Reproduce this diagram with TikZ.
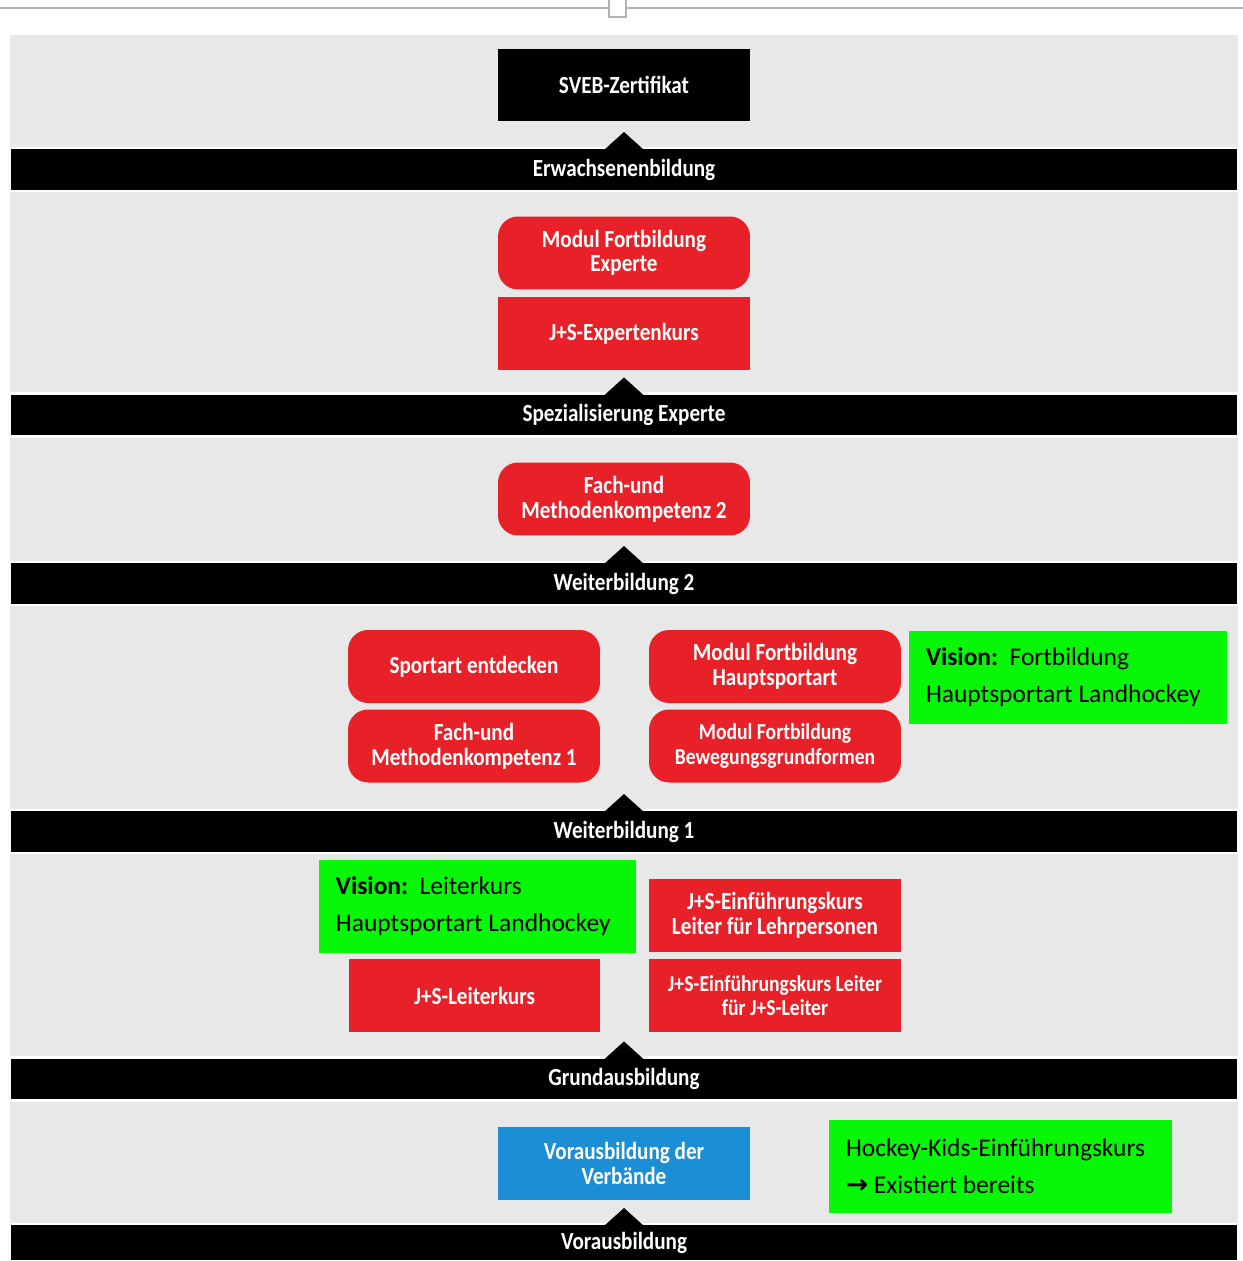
\documentclass[tikz,border=0pt]{standalone}
\usepackage{fontspec}
\usepackage{tikz}
\setmainfont{Carlito}
\newfontfamily\boxfont[FakeStretch=0.86]{Carlito}
\newfontfamily\arrowfont{DejaVu Sans}

\definecolor{panelgrey}{RGB}{232,232,232}
\definecolor{jsred}{RGB}{232,32,40}
\definecolor{jsblue}{RGB}{28,142,214}
\definecolor{visgreen}{RGB}{8,246,8}

\tikzset{
  stage/.style={fill=black, draw=white, line width=0.05cm, outer sep=0pt, inner sep=0pt,
    minimum width=24.56cm, minimum height=0.86cm, text=white,
    font=\boxfont\bfseries\fontsize{14}{14}\selectfont},
  box/.style={minimum width=5.04cm, minimum height=1.46cm, inner sep=0pt, outer sep=0pt,
    align=center, text=white, font=\boxfont\bfseries\fontsize{14}{14}\selectfont},
  darkbox/.style={box, fill=black},
  redbox/.style={box, fill=jsred},
  redround/.style={redbox, rounded corners=0.4cm},
  bluebox/.style={box, fill=jsblue},
  smalltext/.style={font=\boxfont\bfseries\fontsize{13}{14}\selectfont},
  vision/.style={fill=visgreen, anchor=north west, align=flush left, inner xsep=0.34cm, inner ysep=0pt,
    outer sep=0pt, minimum height=1.86cm, text=black, font=\fontsize{14.5}{21}\selectfont}
}

\begin{document}
\begin{tikzpicture}[x=0.02cm, y=-0.02cm]
        \useasboundingbox (0,0) rectangle (1243,1261);
        % window edge at the top
        \draw[gray!60, line width=0.04cm] (0,8) -- (1243,8);
        \filldraw[fill=white, draw=gray!60, line width=0.03cm] (609,0) -- (609,17) -- (626,17) -- (626,0);
        \fill[panelgrey] (10,35) rectangle (1238,1261);

        % stages
        \node[stage] at (624,169.5) (s1) {Erwachsenenbildung};
        \node[stage] at (624,415) (s2) {Spezialisierung Experte};
        \node[stage] at (624,583.5) (s3) {Weiterbildung 2};
        \node[stage] at (624,831.5) (s4) {Weiterbildung 1};
        \node[stage] at (624,1079) (s5) {Grundausbildung};
        \node[stage, minimum height=0.74cm] at (624,1242.5) (s6) {Vorausbildung};
        \foreach \s in {s1,s2,s3,s4,s5,s6}
            \fill[black] (\s.north) ++(-20,2) -- ++(20,-18) -- ++(20,18) -- cycle;

        % courses
        \node[darkbox] at (624,85) (sveb) {SVEB-Zertifikat};
        \node[redround] at (624,253) (modexp) {Modul Fortbildung\\Experte};
        \node[redbox] at (624,333.5) (expkurs) {J+S-Expertenkurs};
        \node[redround] at (624,499) (fmk2) {Fach-und\\Methodenkompetenz 2};
        \node[redround] at (474,666.5) (sport) {Sportart entdecken};
        \node[redround] at (775,666.5) (modhaupt) {Modul Fortbildung\\Hauptsportart};
        \node[redround] at (474,746) (fmk1) {Fach-und\\Methodenkompetenz 1};
        \node[redround, smalltext] at (775,746) (modbew) {Modul Fortbildung\\Bewegungsgrundformen};
        \node[redbox] at (775,915.5) (einlehr) {J+S-Einführungskurs\\Leiter für Lehrpersonen};
        \node[redbox] at (474.5,995.5) (leiter) {J+S-Leiterkurs};
        \node[redbox, smalltext] at (775,995.5) (einleiter) {J+S-Einführungskurs Leiter\\für J+S-Leiter};
        \node[bluebox] at (624,1163.5) (vorverb) {Vorausbildung der\\Verbände};

        % notes
        \node[vision, minimum width=6.36cm, text width=5.68cm] at (909,631) (visfort)
            {\textbf{Vision:}\ \ Fortbildung\\Hauptsportart Landhockey};
        \node[vision, minimum width=6.34cm, text width=5.66cm] at (319,860) (visleit)
            {\textbf{Vision:}\ \ Leiterkurs\\Hauptsportart Landhockey};
        \node[vision, minimum width=6.86cm, text width=6.18cm] at (829,1120) (kids)
            {Hockey-Kids-Einführungskurs\\{\arrowfont\bfseries\fontsize{15}{21}\selectfont →} Existiert bereits};
\end{tikzpicture}
\end{document}
